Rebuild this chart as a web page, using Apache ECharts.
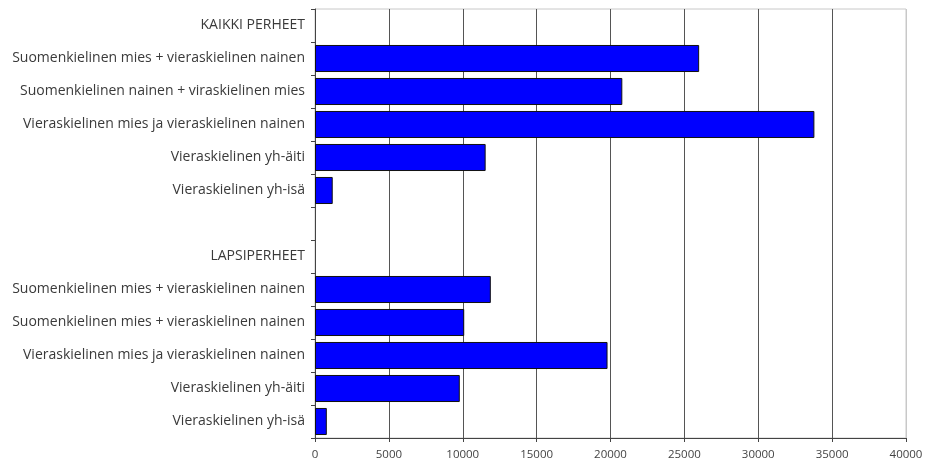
<!DOCTYPE html>
<html>
<head>
<meta charset="utf-8">
<script src="https://cdn.jsdelivr.net/npm/echarts@6/dist/echarts.min.js"></script>
<style>
html,body{margin:0;padding:0;background:#fff;}
#chart{width:926px;height:470px;}
</style>
</head>
<body>
<div id="chart"></div>
<script>
// Categories, top to bottom
var categories = [
  'KAIKKI PERHEET',
  'Suomenkielinen mies + vieraskielinen nainen',
  'Suomenkielinen nainen + viraskielinen mies',
  'Vieraskielinen mies ja vieraskielinen nainen',
  'Vieraskielinen yh-äiti',
  'Vieraskielinen yh-isä',
  '',
  'LAPSIPERHEET',
  'Suomenkielinen mies + vieraskielinen nainen',
  'Suomenkielinen mies + vieraskielinen nainen',
  'Vieraskielinen mies ja vieraskielinen nainen',
  'Vieraskielinen yh-äiti',
  'Vieraskielinen yh-isä'
];
var values = [null, 26000, 20800, 33800, 11550, 1200, null, null, 11900, 10100, 19800, 9800, 800];
var xTicks = { min: 0, max: 40000, interval: 5000 };

var chart = echarts.init(document.getElementById('chart'));
chart.setOption({
  animation: false,
  grid: { left: 315, right: 20, top: 9, bottom: 32, show: true, borderColor: '#c8c8c8', borderWidth: 1, containLabel: false },
  xAxis: {
    type: 'value', min: xTicks.min, max: xTicks.max, interval: xTicks.interval,
    axisLine: { show: true, lineStyle: { color: '#444', width: 1 } },
    axisTick: { show: true, length: 4, lineStyle: { color: '#444' } },
    axisLabel: { color: '#444', fontFamily: 'Open Sans', fontSize: 11.5, margin: 11, formatter: function (v) { return String(v); } },
    splitLine: { show: true, lineStyle: { color: ['#555','#555','#555','#555','#555','#555','#555','#555','#c8c8c8'], width: 1 } }
  },
  yAxis: {
    type: 'category', data: categories, inverse: true,
    axisLine: { show: true, lineStyle: { color: '#444', width: 1 } },
    axisTick: { show: true, length: 4, lineStyle: { color: '#444' } },
    axisLabel: { color: '#3a3a3a', fontFamily: 'Open Sans', fontSize: 14, margin: 10 },
    splitLine: { show: false }
  },
  series: [{
    type: 'bar', data: values, barCategoryGap: '18%',
    itemStyle: { color: '#0000ff', borderColor: '#111', borderWidth: 1 }
  }]
});
</script>
</body>
</html>
